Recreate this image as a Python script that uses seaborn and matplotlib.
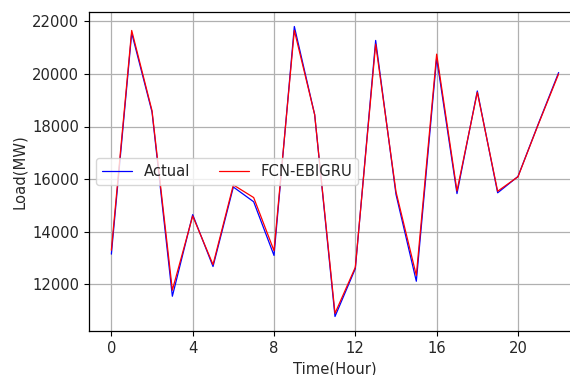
import matplotlib
matplotlib.use("Agg")
import matplotlib.pyplot as plt
import numpy as np
import pandas as pd
import seaborn as sns

# Hourly load, actual vs. FCN-EBIGRU forecast
hours = list(range(23))
actual = [13150, 21550, 18550, 11550, 14650, 12680, 15700, 15140, 13100,
          21800, 18450, 10780, 12600, 21270, 15420, 12120, 20600, 15450,
          19350, 15480, 16100, 18100, 20050]
forecast = [13300, 21650, 18600, 11780, 14600, 12750, 15780, 15300, 13280,
            21650, 18450, 10900, 12650, 21130, 15520, 12340, 20750, 15550,
            19300, 15540, 16090, 18080, 20000]
series_names = ["Actual", "FCN-EBIGRU"]
series_colors = ["#0000ff", "#ff0000"]

df = pd.DataFrame({
    "hour": hours * 2,
    "load": actual + forecast,
    "series": [series_names[0]] * len(hours) + [series_names[1]] * len(hours),
})

sns.set_style("ticks")
plt.rcParams["font.family"] = ["DejaVu Sans"]

fig = plt.figure(figsize=(5.70, 3.75), dpi=100)
ax = fig.add_axes([89 / 570, 44 / 375, 492 / 570, 319 / 375])

sns.lineplot(data=df, x="hour", y="load", hue="series",
             palette=dict(zip(series_names, series_colors)),
             linewidth=0.9, ax=ax)

fs = 10.6
ax.grid(True, color="#b0b0b0", linewidth=0.9)
ax.set_axisbelow(True)
ax.set_xticks([0, 4, 8, 12, 16, 20])
ax.set_yticks([12000, 14000, 16000, 18000, 20000, 22000])
ax.set_xlabel("Time(Hour)", fontsize=fs)
ax.set_ylabel("Load(MW)", fontsize=fs)
ax.tick_params(labelsize=fs, color="black", width=0.8, length=3.5)
for sp in ax.spines.values():
    sp.set_color("black")
    sp.set_linewidth(0.9)

ax.legend(loc="center left", ncol=2, fontsize=fs, frameon=True,
          handlelength=2.0, columnspacing=2.0)

fig.savefig("out.png", dpi=100)
